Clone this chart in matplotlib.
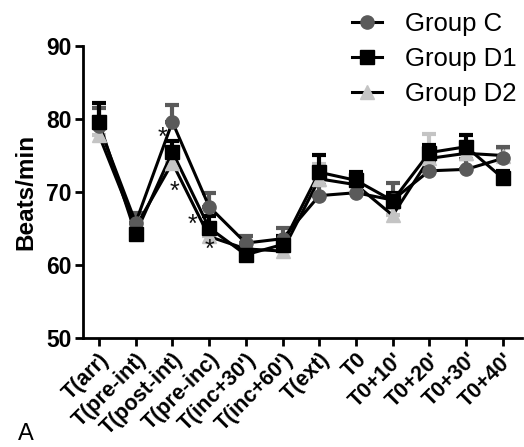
import numpy as np
import matplotlib
matplotlib.use("Agg")
import matplotlib.pyplot as plt
from matplotlib.lines import Line2D

plt.rcParams["font.family"] = ["Liberation Sans", "DejaVu Sans"]

# time points
labels = ["T(arr)", "T(pre-int)", "T(post-int)", "T(pre-inc)", "T(inc+30')",
          "T(inc+60')", "T(ext)", "T0", "T0+10'", "T0+20'", "T0+30'", "T0+40'"]

# heart rate means and SEM (upper bars only)
group_c = [79.0, 65.8, 79.6, 68.0, 63.0, 63.6, 69.5, 69.9, 68.9, 72.9, 73.1, 74.6]
group_c_err = [2.5, 1.3, 2.3, 1.8, 1.0, 1.5, 1.5, 1.3, 2.4, 1.3, 1.4, 1.5]
group_d1 = [79.6, 64.3, 75.5, 65.1, 61.4, 62.8, 72.7, 71.6, 68.8, 75.4, 76.2, 71.9]
group_d1_err = [2.6, 0.5, 1.5, 1.6, 0.6, 1.2, 2.4, 1.1, 1.0, 1.1, 1.6, 1.0]
group_d2 = [77.8, 65.2, 74.0, 63.9, 62.2, 61.9, 71.8, 71.0, 66.8, 74.6, 75.3, 75.0]
group_d2_err = [2.5, 1.0, 1.0, 1.0, 0.8, 1.0, 2.0, 1.0, 1.0, 3.4, 1.0, 1.0]

# significance markers (x position, y value)
star_x = [1.74, 2.07, 2.56, 3.0]
star_y = [77.4, 70.0, 65.5, 62.1]

x = np.arange(len(labels))

fig = plt.figure(figsize=(5.24, 4.47), dpi=100)
ax = fig.add_axes([0.158, 0.244, 0.838, 0.653])

series = [
    (group_d2, group_d2_err, "^", "#c4c4c4", "Group D2"),
    (group_c, group_c_err, "o", "#5a5a5a", "Group C"),
    (group_d1, group_d1_err, "s", "#000000", "Group D1"),
]
for vals, err, mk, col, name in series:
    vals = np.array(vals)
    ax.errorbar(x, vals, yerr=[np.zeros_like(vals), err], fmt="none",
                ecolor=col, elinewidth=3, capsize=5, capthick=3, zorder=2)
    ax.plot(x, vals, color="black", lw=2.2, zorder=3)
    ax.plot(x, vals, ls="none", marker=mk, ms=9.5, color=col, zorder=4)

for sx, sy in zip(star_x, star_y):
    ax.text(sx, sy, "*", fontsize=18, ha="center", va="center",
            color="#111111", zorder=5)

ax.set_xlim(-0.44, 11.52)
ax.set_ylim(50, 90)
ax.set_yticks([50, 60, 70, 80, 90])
ax.set_xticks(x)
ax.set_xticklabels(labels, rotation=45, ha="right", rotation_mode="anchor")
for lab in ax.get_xticklabels():
    lab.set_fontsize(15.5)
    lab.set_fontweight("bold")
for lab in ax.get_yticklabels():
    lab.set_fontsize(16.5)
    lab.set_fontweight("bold")
ax.set_ylabel("Beats/min", fontsize=17.5, fontweight="bold", labelpad=6)

for side in ["top", "right"]:
    ax.spines[side].set_visible(False)
for side in ["left", "bottom"]:
    ax.spines[side].set_linewidth(2)
ax.tick_params(width=2, length=6, direction="out", pad=2)

handles = [
    Line2D([], [], color="black", lw=2.2, marker="o", ms=9.5, mfc="#5a5a5a", mec="#5a5a5a"),
    Line2D([], [], color="black", lw=2.2, marker="s", ms=9.5, mfc="black", mec="black"),
    Line2D([], [], color="black", lw=2.2, marker="^", ms=9.5, mfc="#c4c4c4", mec="#c4c4c4"),
]
fig.legend(handles, ["Group C", "Group D1", "Group D2"], loc="upper left",
           bbox_to_anchor=(0.628, 1.024), frameon=False, fontsize=18.5,
           handlelength=1.15, handletextpad=0.9, labelspacing=0.42)

fig.text(0.035, 0.015, "A", fontsize=17)

fig.savefig("out.png", dpi=100)
